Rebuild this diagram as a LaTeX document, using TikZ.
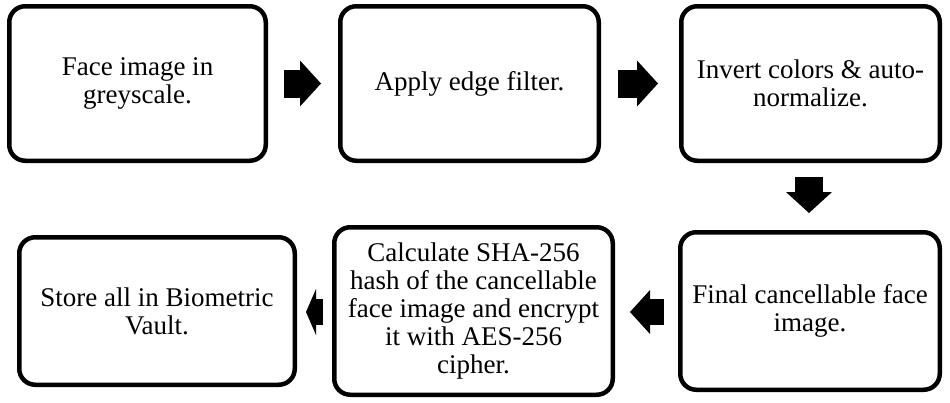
\documentclass[tikz,border=0pt]{standalone}
\usepackage{fontspec}
\setmainfont{Liberation Serif}
\usetikzlibrary{arrows.meta}
\tikzset{
  stepbox/.style={draw=black, line width=4.5pt, rounded corners=16pt, fill=white,
    align=center, inner sep=0pt, font=\fontsize{27}{28}\selectfont},
  blockarrow/.style={draw=black, line width=28pt,
    -{Triangle[length=21pt,width=46pt,line width=0pt]}},
  blockarrowb/.style={draw=black, line width=26pt,
    -{Triangle[length=20pt,width=44pt,line width=0pt]}}
}
\begin{document}
\begin{tikzpicture}[x=1pt,y=-1pt]
\useasboundingbox (0,0) rectangle (950,402);
\node[stepbox, minimum width=256.5pt, minimum height=154.5pt] (b1) at (137.5,83.5) {Face image in\\greyscale.};
\node[stepbox, minimum width=258.5pt, minimum height=154.5pt] (b2) at (469.5,83.5) {Apply edge filter.};
\node[stepbox, minimum width=258.5pt, minimum height=154.5pt] (b3) at (810.5,83.5) {Invert colors \& auto-\\normalize.};
\node[stepbox, minimum width=259.5pt, minimum height=157.5pt] (b4) at (810,311) {Final cancellable face\\image.};
\node[stepbox, minimum width=278.5pt, minimum height=167.5pt] (b5) at (473.5,311) {Calculate SHA-256\\hash of the cancellable\\face image and encrypt\\it with AES-256\\cipher.};
\node[stepbox, minimum width=275.5pt, minimum height=147.5pt] (b6) at (157,311) {Store all in Biometric\\Vault.};
\draw[blockarrow] ([xshift=16pt]b1.east) -- ([xshift=-17pt]b2.west);
\draw[blockarrow] ([xshift=17pt]b2.east) -- ([xshift=-21pt]b3.west);
\draw[blockarrow] ([xshift=-1.5pt,yshift=-14pt]b3.south) -- ([xshift=-1pt,yshift=17pt]b4.north);
\draw[blockarrowb] ([xshift=-14pt,yshift=-1pt]b4.west) -- ([xshift=15pt,yshift=-1pt]b5.east);
\draw[blockarrowb, -{Triangle[length=10pt,width=46pt,line width=0pt]}] ([xshift=-9pt,yshift=-1pt]b5.west) -- ([xshift=9pt,yshift=-1pt]b6.east);
\end{tikzpicture}
\end{document}
